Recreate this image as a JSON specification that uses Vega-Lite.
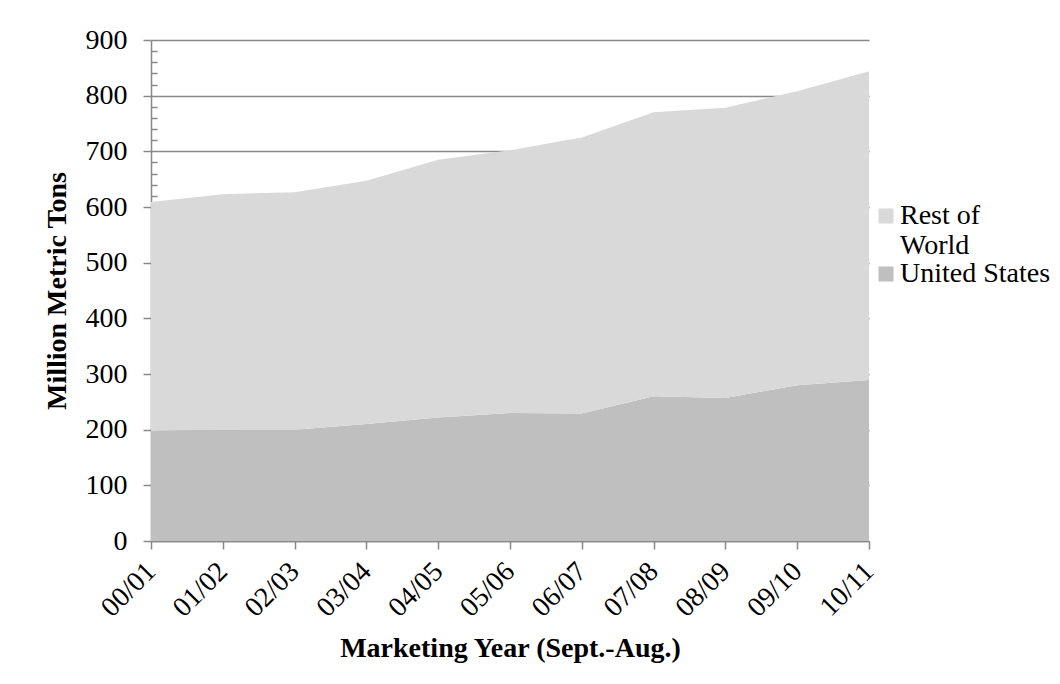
{
  "$schema": "https://vega.github.io/schema/vega-lite/v6.json",
  "autosize": {"type": "none"},
  "width": 718,
  "height": 501,
  "padding": {"left": 151, "top": 40, "right": 191, "bottom": 143},
  "background": "white",
  "config": {
    "font": "Liberation Serif",
    "view": {"stroke": null},
    "axis": {"labelFont": "Liberation Serif", "titleFont": "Liberation Serif", "labelColor": "black", "titleColor": "black", "domainColor": "#898989", "tickColor": "#898989", "gridColor": "#898989", "domainWidth": 1.5, "tickWidth": 1.5, "gridWidth": 1.5}
  },
  "data": {
    "values": [
      {"year": "00/01", "series": "United States", "value": 197.5},
      {"year": "01/02", "series": "United States", "value": 199},
      {"year": "02/03", "series": "United States", "value": 200},
      {"year": "03/04", "series": "United States", "value": 210},
      {"year": "04/05", "series": "United States", "value": 222},
      {"year": "05/06", "series": "United States", "value": 230},
      {"year": "06/07", "series": "United States", "value": 229},
      {"year": "07/08", "series": "United States", "value": 260},
      {"year": "08/09", "series": "United States", "value": 257},
      {"year": "09/10", "series": "United States", "value": 280},
      {"year": "10/11", "series": "United States", "value": 289},
      {"year": "00/01", "series": "Rest of World", "value": 411.5},
      {"year": "01/02", "series": "Rest of World", "value": 424},
      {"year": "02/03", "series": "Rest of World", "value": 426.5},
      {"year": "03/04", "series": "Rest of World", "value": 437},
      {"year": "04/05", "series": "Rest of World", "value": 463},
      {"year": "05/06", "series": "Rest of World", "value": 472},
      {"year": "06/07", "series": "Rest of World", "value": 496},
      {"year": "07/08", "series": "Rest of World", "value": 510},
      {"year": "08/09", "series": "Rest of World", "value": 521.5},
      {"year": "09/10", "series": "Rest of World", "value": 528},
      {"year": "10/11", "series": "Rest of World", "value": 555}
    ]
  },
  "mark": {"type": "area", "opacity": 1},
  "encoding": {
    "x": {
      "field": "year", "type": "ordinal",
      "scale": {"type": "point", "padding": 0},
      "axis": {"title": "Marketing Year (Sept.-Aug.)", "titleFontSize": 28, "titleFontWeight": "bold", "titlePadding": 13, "labelFontSize": 28, "labelAngle": -45, "labelAlign": "right", "labelBaseline": "middle", "labelPadding": 18, "tickSize": 8, "grid": false}
    },
    "y": {
      "field": "value", "type": "quantitative", "stack": "zero",
      "scale": {"domain": [0, 900], "nice": false},
      "axis": {
        "title": "Million Metric Tons", "titleFontSize": 28, "titleFontWeight": "bold", "titlePadding": 14,
        "labelFontSize": 28, "labelPadding": 16,
        "values": [0,20,40,60,80,100,120,140,160,180,200,220,240,260,280,300,320,340,360,380,400,420,440,460,480,500,520,540,560,580,600,620,640,660,680,700,720,740,760,780,800,820,840,860,880,900],
        "labelExpr": "datum.value % 100 == 0 ? datum.label : ''",
        "tickSize": {"condition": {"test": "datum.value % 100 == 0", "value": 8}, "value": -6},
        "gridOpacity": {"condition": {"test": "datum.value % 100 == 0", "value": 1}, "value": 0},
        "labelBound": false, "labelOverlap": false
      }
    },
    "color": {
      "field": "series", "type": "nominal",
      "scale": {"domain": ["Rest of World", "United States"], "range": ["#d9d9d9", "#bfbfbf"]},
      "legend": {"title": null, "orient": "none", "legendX": 721, "legendY": 162, "symbolType": "square", "symbolSize": 225, "symbolStrokeWidth": 0, "labelOffset": 0, "labelFontSize": 28, "labelFont": "Liberation Serif", "labelColor": "black", "labelExpr": "datum.label == 'Rest of World' ? ['Rest of', 'World'] : datum.label", "labelLimit": 300, "rowPadding": -5}
    },
    "order": {"field": "series", "sort": "descending"}
  }
}
